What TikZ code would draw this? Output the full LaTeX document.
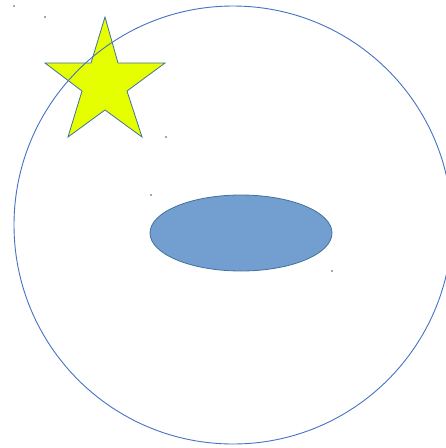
\documentclass[tikz,border=0pt]{standalone}
\definecolor{outl}{RGB}{68,114,196}
\definecolor{shapeedge}{RGB}{65,113,156}
\definecolor{ellfill}{RGB}{114,159,207}
\definecolor{starfill}{RGB}{229,255,0}
\definecolor{dotc}{RGB}{150,170,205}
\tikzset{
  starshape/.style={draw=shapeedge, fill=starfill, line width=0.8pt, line join=miter},
  ringshape/.style={draw=outl, line width=0.9pt},
  ellshape/.style={draw=shapeedge, fill=ellfill, line width=0.8pt},
  marker/.style={fill=dotc}
}
\begin{document}
\begin{tikzpicture}[x=1pt,y=-1pt]
\useasboundingbox (0,0) rectangle (446,448);
\clip (0,0) rectangle (446,448);
% star
\draw[starshape] (105,17) -- (118,63) -- (165,63) -- (127,91) -- (142,137) -- (105,110)
  -- (68,137) -- (82,91) -- (45,63) -- (91,63) -- cycle;
% big circle
\draw[ringshape] (233,225) circle[radius=219];
% ellipse
\draw[ellshape] (241,233) ellipse[x radius=91, y radius=38];
% tiny selection markers
\foreach \p in {(14,6),(45,17),(166,137),(151,195),(332,271)}
  \fill[marker] \p ++(-0.6,-0.6) rectangle ++(1.2,1.2);
\end{tikzpicture}
\end{document}
